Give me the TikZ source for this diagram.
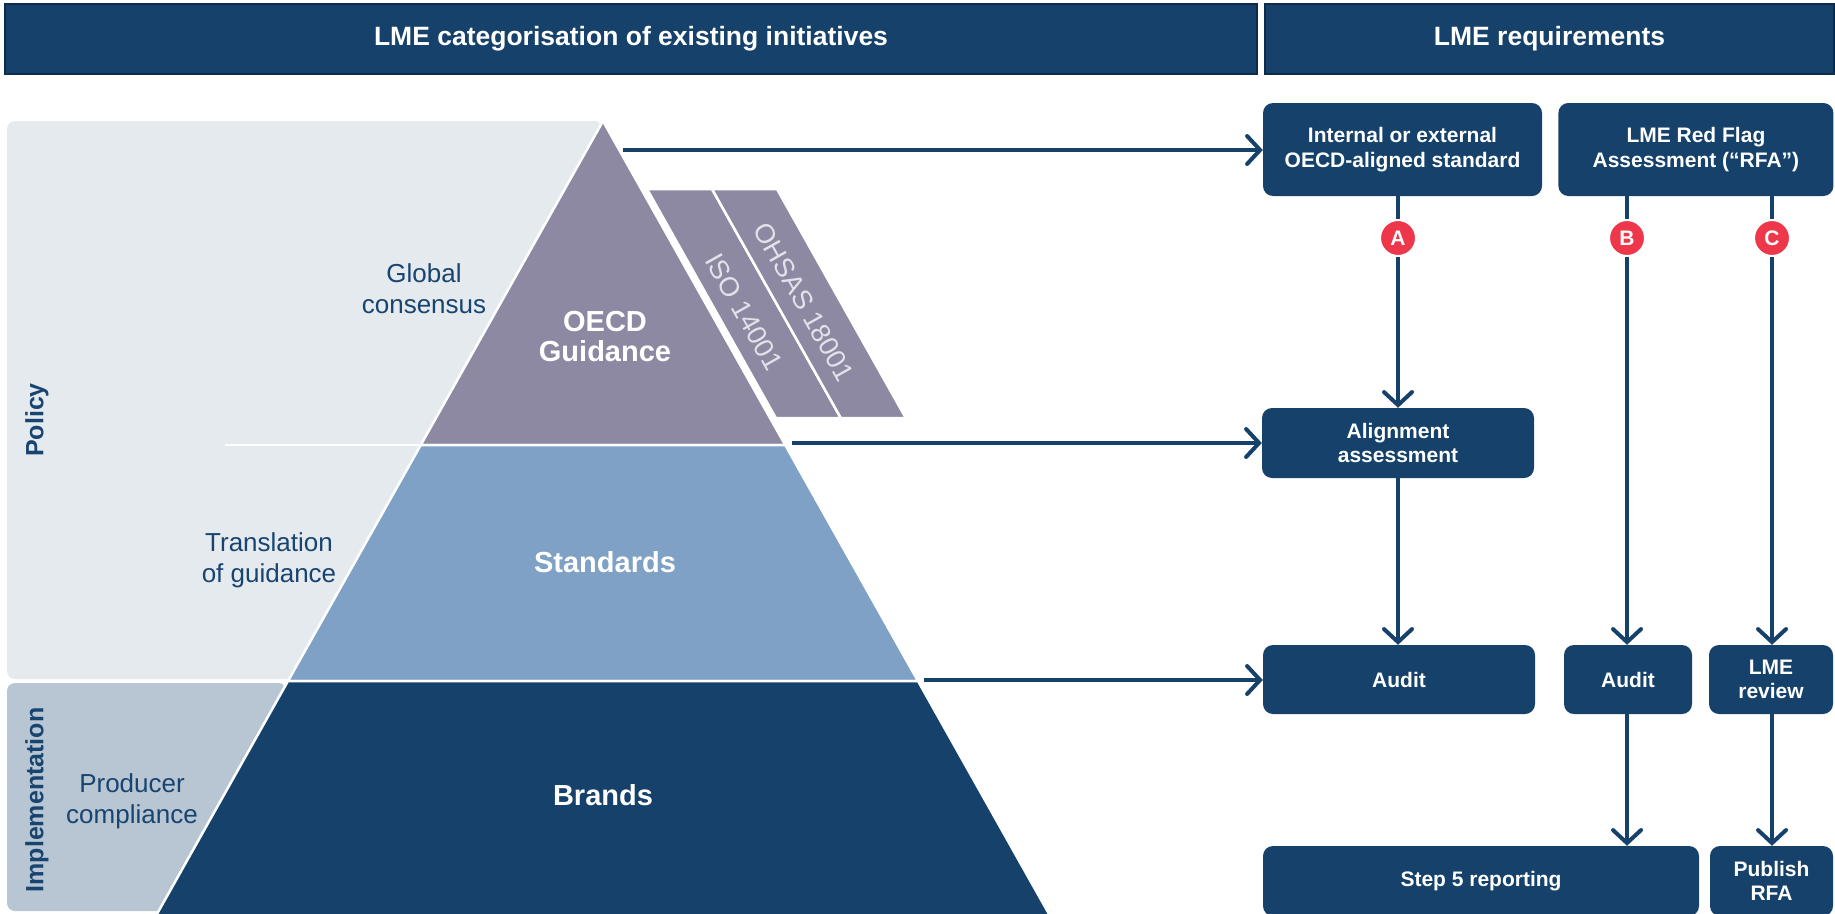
\documentclass[tikz,border=0pt]{standalone}
\usepackage{fontspec}
\setmainfont{Liberation Sans}
\usepackage{xcolor}
\usepackage{tikz}
\usetikzlibrary{arrows.meta, positioning}

\definecolor{lmeblue}{RGB}{21,65,106}
\definecolor{hdrline}{RGB}{12,44,74}
\definecolor{oecdpurple}{RGB}{142,137,162}
\definecolor{stdblue}{RGB}{127,161,198}
\definecolor{policybg}{RGB}{229,234,239}
\definecolor{implbg}{RGB}{184,198,211}
\definecolor{lbltext}{RGB}{24,68,112}
\definecolor{lmered}{RGB}{239,55,75}
\definecolor{bandtext}{RGB}{226,226,234}

\begin{document}
\begin{tikzpicture}[
    x=1pt, y=-1pt,
    header/.style={rectangle, draw=hdrline, line width=1.5pt, fill=lmeblue, text=white, minimum height=70pt, font=\bfseries\fontsize{26.5}{30}\selectfont},
    reqbox/.style={rectangle, fill=lmeblue, text=white, rounded corners=10pt, align=center, inner sep=0pt, font=\bfseries\fontsize{21}{24.5}\selectfont},
    badge/.style={circle, fill=lmered, draw=white, line width=2pt, text=white, minimum size=36pt, inner sep=0pt, font=\bfseries\fontsize{21}{21}\selectfont},
    tier/.style={text=white, align=center, font=\bfseries\fontsize{29}{30}\selectfont},
    side/.style={text=lbltext, align=center, font=\fontsize{26}{31}\selectfont},
    zone/.style={text=lbltext, rotate=90, font=\bfseries\fontsize{25}{28}\selectfont},
    band/.style={text=bandtext, rotate=-60.6, font=\fontsize{27}{30}\selectfont},
    layer/.style={draw=white, line width=2.5pt},
    link/.style={draw=lmeblue, line width=4pt},
    flow/.style={link, -{Straight Barb[length=13pt, width=28pt, line cap=round]}}
]
\useasboundingbox (0,0) rectangle (1835,913);
\clip (0,0) rectangle (1835,913);

% Headers
\node[header, minimum width=1252pt] (cathdr) at (631,39) {LME categorisation of existing initiatives};
\node[header, minimum width=569pt] (reqhdr) at (1549.5,39) {LME requirements};

% Background zones
\fill[policybg] (603,121) -- (289,679) [rounded corners=8pt] -- (7,679) -- (7,121) -- cycle;
\fill[implbg] (287,683) -- (160,911) [rounded corners=8pt] -- (7,911) -- (7,683) -- cycle;
\draw[white, line width=2.5pt] (225,445) -- (421,445);

% Standards bands
\filldraw[layer, fill=oecdpurple] (647,189) -- (712,189) -- (840.8,418) -- (775.8,418) -- cycle;
\filldraw[layer, fill=oecdpurple] (712,189) -- (777,189) -- (905.8,418) -- (840.8,418) -- cycle;
\node[band] (iso) at (744,312) {ISO 14001};
\node[band] (ohsas) at (804,302) {OHSAS 18001};

% Pyramid
\filldraw[layer, fill=oecdpurple] (603,121) -- (785.25,445) -- (420.75,445) -- cycle;
\filldraw[layer, fill=stdblue] (420.75,445) -- (785.25,445) -- (918,681) -- (288,681) -- cycle;
\filldraw[layer, fill=lmeblue] (288,681) -- (918,681) -- (1052.4,920) -- (153.6,920) -- cycle;

\node[tier] (oecd) at (605,337) {OECD\\Guidance};
\node[tier] (stds) at (605,562) {Standards};
\node[tier] (brands) at (603,795) {Brands};

% Zone labels
\node[side] (global) at (424,289) {Global\\consensus};
\node[side] (transl) at (269,560) {Translation\\of guidance};
\node[side] (producer) at (132,801) {Producer\\compliance};
\node[zone] (policy) at (37,420) {Policy};
\node[zone] (impl) at (37,800) {Implementation};

% Requirement boxes
\node[reqbox, minimum width=279pt, minimum height=93pt] (std) at (1402.5,149.5) {Internal or external\\OECD-aligned standard};
\node[reqbox, minimum width=275pt, minimum height=93pt, right=16pt of std] (rfa) {LME Red Flag\\Assessment (“RFA”)};
\node[reqbox, minimum width=272pt, minimum height=70pt] (align) at (1398,443) {Alignment\\assessment};
\node[reqbox, minimum width=272pt, minimum height=69pt] (auditA) at (1399,679.5) {Audit};
\node[reqbox, minimum width=128pt, minimum height=69pt] (auditB) at (1628,679.5) {Audit};
\node[reqbox, minimum width=124pt, minimum height=69pt] (review) at (1771,679.5) {LME\\review};
\node[reqbox, minimum width=436pt, minimum height=70pt] (report) at (1481,881) {Step 5 reporting};
\node[reqbox, minimum width=123pt, minimum height=70pt] (publish) at (1771.5,881) {Publish\\RFA};

% Badges
\node[badge] (A) at (1398,238) {A};
\node[badge] (B) at (1627,238) {B};
\node[badge] (C) at (1772,238) {C};

% Pyramid to requirements
\coordinate (apexout) at (623,150);
\coordinate (oecdout) at (792,443);
\coordinate (stdsout) at (924,680);
\draw[flow] (apexout) -- (apexout -| std.west);
\draw[flow] (oecdout) -- (oecdout -| align.west);
\draw[flow] (stdsout) -- (stdsout -| auditA.west);

% Connections
\draw[link] (std.south -| A) -- (A);
\draw[flow] (A) -- (A |- align.north);
\draw[flow] (align.south -| A) -- (A |- auditA.north);
\draw[link] (rfa.south -| B) -- (B);
\draw[flow] (B) -- (B |- auditB.north);
\draw[flow] (auditB.south -| B) -- (B |- report.north);
\draw[link] (rfa.south -| C) -- (C);
\draw[flow] (C) -- (C |- review.north);
\draw[flow] (review.south -| C) -- (C |- publish.north);

\end{tikzpicture}
\end{document}
